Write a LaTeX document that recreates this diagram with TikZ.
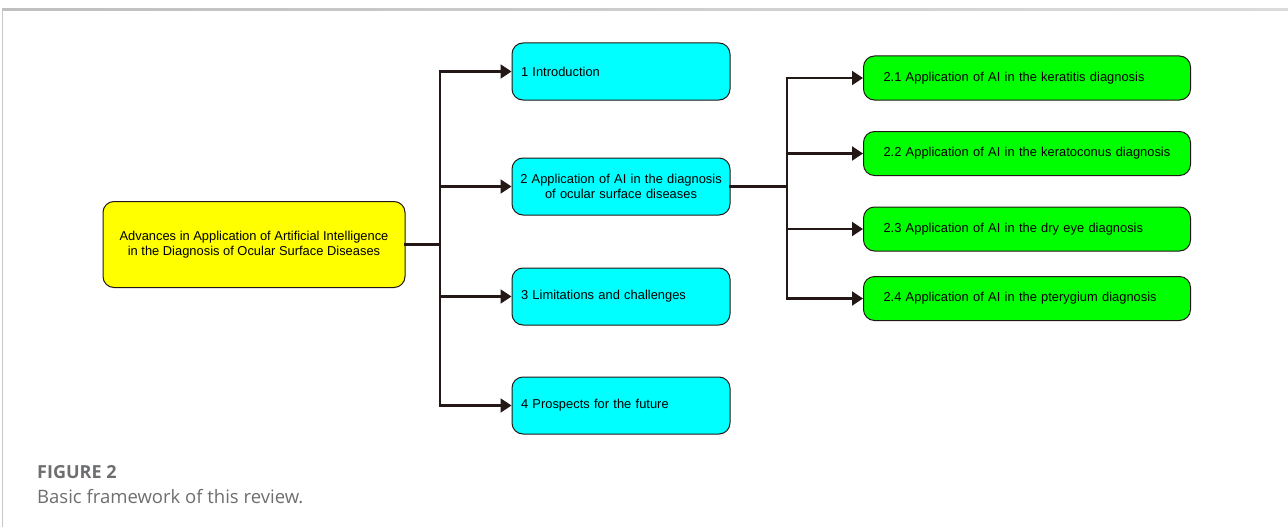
\documentclass[tikz,border=0pt]{standalone}
\usepackage{fontspec}
\setmainfont{Liberation Sans}
\newfontfamily\capfont{Open Sans}
\usetikzlibrary{arrows.meta}
\definecolor{linedark}{HTML}{231815}
\definecolor{capgray}{HTML}{6D6E70}
\definecolor{rootfill}{RGB}{255,255,0}
\definecolor{secfill}{RGB}{0,255,255}
\definecolor{subfill}{RGB}{0,255,0}
\tikzset{
  box/.style={draw=linedark, line width=1pt, rounded corners=11pt, minimum height=57pt,
    font=\fontsize{12.9}{15}\selectfont},
  mainbox/.style={box, fill=rootfill, minimum width=302pt, minimum height=86pt, align=center},
  secbox/.style={box, fill=secfill, minimum width=218pt, text width=200pt, inner xsep=9pt, align=left},
  subbox/.style={box, fill=subfill, minimum width=327pt, minimum height=44pt, text width=287pt,
    inner xsep=20pt, align=left},
  link/.style={draw=linedark, line width=2.3pt, line cap=rect},
  arr/.style={link, -{Triangle[length=11pt,width=14pt]}},
}
\begin{document}
\begin{tikzpicture}[x=1pt,y=-1pt]
    \useasboundingbox (0,0) rectangle (1288,527);
    % frame of the figure
    \shade[left color=black!25, right color=black!14] (2,8.5) rectangle (1288,10.5);
    \draw[black!22, line width=1pt] (2,9) -- (2,527);
    % root
    \node[mainbox] (root) at (254,244.5) {Advances in Application of Artificial Intelligence\\in the Diagnosis of Ocular Surface Diseases};
    % sections
    \node[secbox] (intro) at (621,71.5) {1 Introduction};
    \node[secbox, text width=214pt, inner xsep=2pt, align=center] (appl) at (621,186.5) {2 Application of AI in the diagnosis\\of ocular surface diseases};
    \node[secbox] (limit) at (621,296.5) {3 Limitations and challenges};
    \node[secbox] (future) at (621,405.5) {4 Prospects for the future};
    % subsections of 2
    \node[subbox] (kera) at (1027,78) {2.1 Application of AI in the keratitis diagnosis};
    \node[subbox] (kcon) at (1027,153.5) {2.2 Application of AI in the keratoconus diagnosis};
    \node[subbox] (dry) at (1027,229) {2.3 Application of AI in the dry eye diagnosis};
    \node[subbox] (pter) at (1027,298.5) {2.4 Application of AI in the pterygium diagnosis};
    % connectors
    \coordinate (fork) at (440,244.5);
    \coordinate (subfork) at (787,186.5);
    \draw[link] (root.east) -- (fork);
    \draw[link] (fork |- intro.west) -- (fork |- future.west);
    \foreach \n in {intro,appl,limit,future}
        \draw[arr] (fork |- \n.west) -- (\n.west);
    \draw[link] (appl.east) -- (subfork);
    \draw[link] (subfork |- kera.west) -- (subfork |- pter.west);
    \foreach \n in {kera,kcon,dry,pter}
        \draw[arr] (subfork |- \n.west) -- (\n.west);
    % caption
    \node[anchor=base west, inner sep=0pt, text=capgray, font=\capfont\fontsize{18}{21}\selectfont\bfseries] (figlabel) at (37,478) {FIGURE 2};
    \node[anchor=base west, inner sep=0pt, text=capgray, font=\capfont\fontsize{18.5}{21}\selectfont] (figcap) at (37,503) {Basic framework of this review.};
\end{tikzpicture}
\end{document}
